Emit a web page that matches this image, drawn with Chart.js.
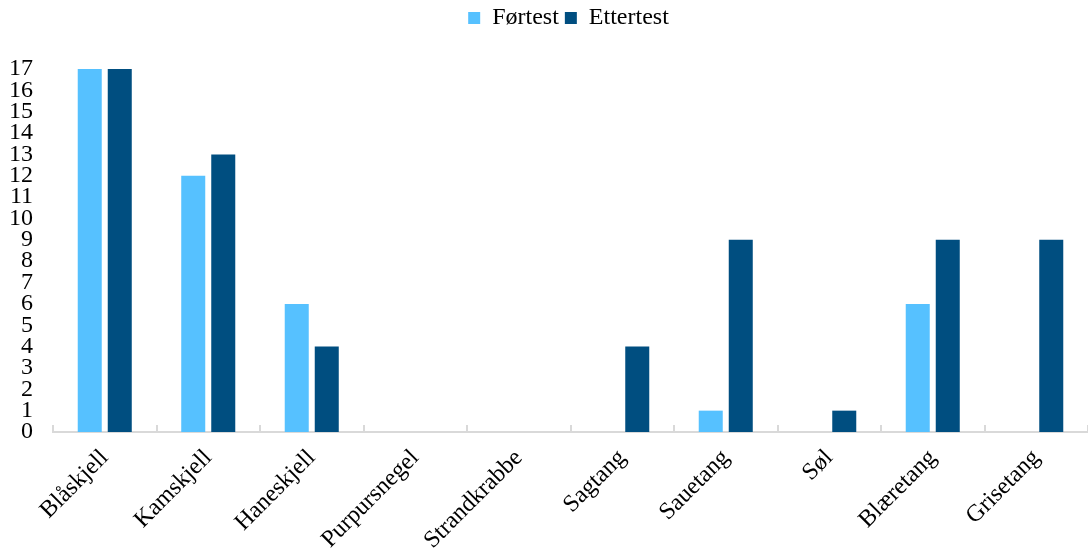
<!DOCTYPE html>
<html>
<head>
<meta charset="utf-8">
<script src="https://cdn.jsdelivr.net/npm/chart.js@4"></script>
<style>
html,body{margin:0;padding:0;background:#fff;}
#wrap{width:1088px;height:552px;position:relative;}
</style>
</head>
<body>
<div id="wrap"><canvas id="c" width="1088" height="552"></canvas></div>
<script>
const categories = ["Blåskjell","Kamskjell","Haneskjell","Purpursnegel","Strandkrabbe","Sagtang","Sauetang","Søl","Blæretang","Grisetang"];
const forTest = [17,12,6,0,0,0,1,0,6,0];
const etterTest = [17,13,4,0,0,4,9,1,9,9];
const seriesNames = ["Førtest","Ettertest"];
const yTicks = [0,1,2,3,4,5,6,7,8,9,10,11,12,13,14,15,16,17];

const FONT = "'Liberation Serif','Times New Roman',serif";

const innerTicks = {
  id:'innerTicks',
  afterDatasetsDraw(chart){
    const s = chart.scales.x, ctx = chart.ctx;
    const n = categories.length;
    ctx.save();
    ctx.strokeStyle = '#d9d9d9';
    ctx.lineWidth = 2;
    ctx.beginPath();
    for(let i=0;i<=n;i++){
      const x = Math.round(s.getPixelForValue(i-0.5));
      ctx.moveTo(x, s.top); ctx.lineTo(x, s.top-7);
    }
    ctx.stroke();
    ctx.restore();
  }
};

const noXPadding = {
  id:'noXPadding',
  beforeLayout(chart){
    const s = chart.scales.x;
    if (s) s.getPadding = () => ({left:0,right:0,top:0,bottom:0});
  },
  afterLayout(chart){
    const lg = chart.legend;
    if (lg){ lg.left += 20; lg.right += 20; }
  }
};

new Chart(document.getElementById('c'), {
  type:'bar',
  data:{
    labels:categories,
    datasets:[
      {label:seriesNames[0], data:forTest, backgroundColor:'#56c1ff', barPercentage:0.8, categoryPercentage:0.58},
      {label:seriesNames[1], data:etterTest, backgroundColor:'#004e80', barPercentage:0.8, categoryPercentage:0.58}
    ]
  },
  options:{
    responsive:false,
    animation:false,
    layout:{padding:{left:9,right:0,top:0,bottom:0}},
    plugins:{
      legend:{
        position:'top',
        labels:{boxWidth:12,boxHeight:12,color:'#000',font:{family:FONT,size:24},padding:6}
      },
      tooltip:{enabled:false}
    },
    scales:{
      x:{
        offset:true,
        grid:{display:false},
        border:{display:true,color:'#d9d9d9',width:2},
        ticks:{color:'#000',font:{family:FONT,size:24},maxRotation:45,minRotation:45,padding:4,autoSkip:false},
        afterFit(axis){ axis.height = 120; }
      },
      y:{
        min:0,max:17,
        afterBuildTicks(axis){ axis.ticks = yTicks.map(v=>({value:v})); },
        grid:{display:false,drawTicks:false},
        border:{display:false},
        ticks:{color:'#000',font:{family:FONT,size:24},padding:20,autoSkip:false},
        afterFit(axis){ axis.width = 44; }
      }
    }
  },
  plugins:[innerTicks,noXPadding,{
    id:'legendSpace',
    afterInit(chart){
      const lg = chart.legend;
      const f = lg.fit.bind(lg);
      lg.fit = function(){ f(); this.height = 69; };
    }
  }]
});
</script>
</body>
</html>
